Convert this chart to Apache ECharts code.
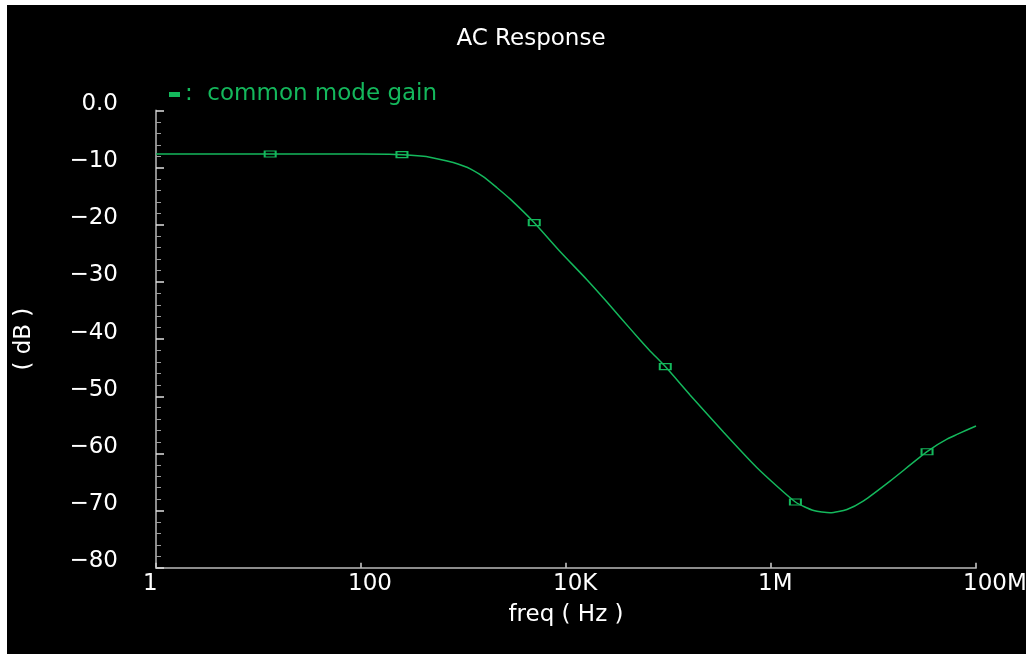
<!DOCTYPE html>
<html>
<head>
<meta charset="utf-8">
<title>AC Response</title>
<script src="https://cdn.jsdelivr.net/npm/echarts@6/dist/echarts.min.js"></script>
<style>
    html, body { margin: 0; padding: 0; background: #ffffff; }
    #chart { position: absolute; left: 7px; top: 5px; width: 1019px; height: 649px; }
</style>
</head>
<body>
<div id="chart"></div>
<script>
// frequency sweep (Hz) and gain (dB)
const freqHz = [1, 10, 100, 216, 408, 594, 794, 1000, 1165, 1570, 2120, 2860, 4830, 8790,
    16000, 25100, 33900, 53100, 66400, 93100, 163000, 345000, 730000, 1730000,
    2610000, 3780000, 5510000, 8000000, 14600000, 33300000, 52100000, 100000000];
const gainDb = [-7.6, -7.6, -7.6, -7.67, -8.0, -8.55, -9.1, -9.7, -10.2, -11.6, -13.5, -15.5, -19.5, -24.7,
    -29.6, -33.5, -36.2, -40.2, -42.1, -44.8, -49.8, -56.3, -62.5, -68.5,
    -70.0, -70.4, -69.8, -68.3, -64.8, -59.7, -57.5, -55.2];

// marker boxes on the trace
const markerFreq = [13, 251, 4900, 93000, 1730000, 33300000];
const markerGain = [-7.6, -7.7, -19.6, -44.8, -68.5, -59.7];

// tick labels
const xTickLabels = { 1: '1', 100: '100', 10000: '10K', 1000000: '1M', 100000000: '100M' };

const green = '#14b85c';
const font = 'DejaVu Sans';

let myChart = echarts.init(document.getElementById('chart'));

let points = freqHz.map((f, i) => [f, gainDb[i]]);
let marks = markerFreq.map((f, i) => ({ coord: [f, markerGain[i]] }));

let option = {
    backgroundColor: '#000000',
    animation: false,
    textStyle: { fontFamily: font },
    title: {
        text: 'AC Response',
        left: 519,
        top: 18,
        textAlign: 'center',
        textStyle: { color: '#ffffff', fontSize: 23, fontWeight: 'normal', fontFamily: font }
    },
    legend: {
        left: 157,
        top: 73,
        itemWidth: 11,
        itemHeight: 5,
        itemGap: 10,
        formatter: ':  {name}',
        textStyle: { color: green, fontSize: 23, fontFamily: font },
        data: [{ name: 'common mode gain', icon: 'rect', itemStyle: { color: green } }]
    },
    grid: { left: 149, right: 50, top: 105.6, bottom: 86.3, outerBoundsMode: 'none' },
    xAxis: {
        type: 'log',
        logBase: 10,
        min: 1,
        max: 100000000,
        interval: 2,
        splitNumber: 4,
        name: 'freq ( Hz )',
        nameLocation: 'middle',
        nameGap: 36,
        nameTextStyle: { color: '#ffffff', fontSize: 23, fontFamily: font },
        axisLine: { onZero: false, lineStyle: { color: '#8c8c8c', width: 2 } },
        axisTick: { inside: true, length: 5, lineStyle: { color: '#d0d0d0', width: 1.5 } },
        axisLabel: {
            color: '#ffffff',
            fontSize: 23,
            fontFamily: font,
            margin: 5,
            align: 'left',
            padding: [0, 0, 0, -13],
            formatter: v => xTickLabels[Math.round(v)] || ''
        },
        splitLine: { show: false }
    },
    yAxis: {
        type: 'value',
        min: -80,
        max: 0,
        interval: 10,
        name: '( dB )',
        nameLocation: 'middle',
        nameGap: 120,
        nameTextStyle: { color: '#ffffff', fontSize: 23, fontFamily: font },
        axisLine: { show: true, onZero: false, lineStyle: { color: '#8c8c8c', width: 2 } },
        axisTick: { show: true, inside: true, length: 8, lineStyle: { color: '#e0e0e0', width: 1.5 } },
        minorTick: { show: true, splitNumber: 5, length: 5, lineStyle: { color: '#a0a0a0', width: 1 } },
        axisLabel: {
            color: '#ffffff',
            fontSize: 23,
            fontFamily: font,
            margin: 38,
            verticalAlign: 'bottom',
            lineHeight: 13,
            formatter: v => v === 0 ? '0.0' : (v < 0 ? '\u2212' + Math.abs(v) : String(v))
        },
        splitLine: { show: false }
    },
    series: [{
        name: 'common mode gain',
        type: 'line',
        data: points,
        smooth: 0.2,
        showSymbol: false,
        lineStyle: { color: green, width: 1.5 },
        itemStyle: { color: green },
        markPoint: {
            symbol: 'rect',
            symbolSize: [11, 6],
            label: { show: false },
            itemStyle: { color: 'transparent', borderColor: green, borderWidth: 1.5 },
            data: marks
        }
    }]
};

myChart.setOption(option);
</script>
</body>
</html>
